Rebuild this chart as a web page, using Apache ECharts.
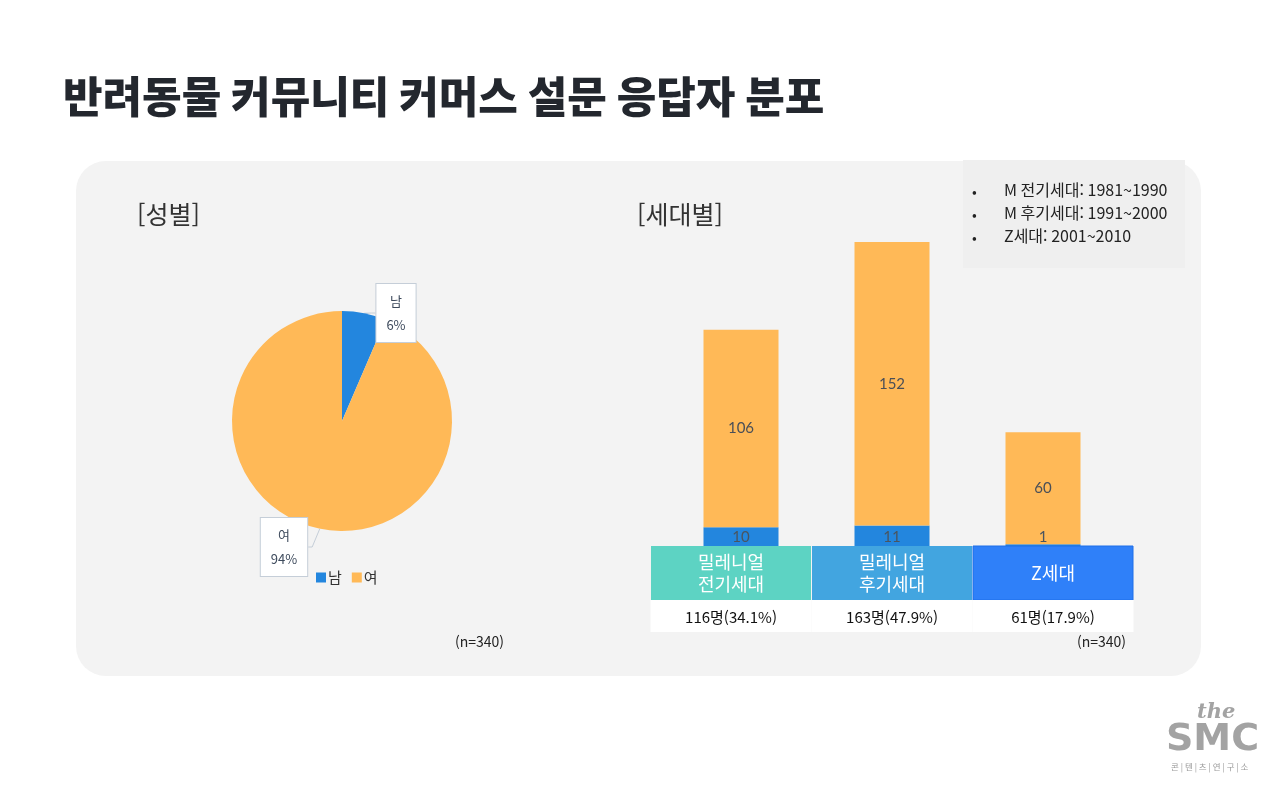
<!DOCTYPE html>
<html lang="ko">
<head>
<meta charset="UTF-8">
<title>반려동물 커뮤니티 커머스 설문 응답자 분포</title>
<script src="https://cdn.jsdelivr.net/npm/echarts@6/dist/echarts.min.js"></script>
<style>
  html, body { margin: 0; padding: 0; background: #fff; }
  #main { width: 1280px; height: 808px; }
</style>
</head>
<body>
<div id="main"></div>
<script>
// data
var genders = ['남', '여'];
var genderValues = [22, 318];
var generations = ['밀레니얼\n전기세대', '밀레니얼\n후기세대', 'Z세대'];
var maleByGen = [10, 11, 1];
var femaleByGen = [106, 152, 60];
var sampleSize = 340;
var headerColors = ['#5dd3c3', '#42a5e0', '#2f80f9'];
var notes = ['M 전기세대: 1981~1990', 'M 후기세대: 1991~2000', 'Z세대: 2001~2010'];

var FONT = '"Noto Sans CJK KR", "Noto Sans", sans-serif';
var BLUE = '#2386de', ORANGE = '#ffb957';

var chart = echarts.init(document.getElementById('main'));

var noteTexts = notes.map(function (t, i) {
  return [
    { type: 'text', left: 972, top: 185 + i * 23, z: 12,
      style: { text: '•', fontSize: 14, fill: '#222', fontFamily: FONT } },
    { type: 'text', left: 1004, top: 182 + i * 23, z: 12,
      style: { text: t, fontSize: 16, fill: '#222', fontFamily: FONT } }
  ];
}).reduce(function (a, b) { return a.concat(b); }, []);

var option = {
  backgroundColor: '#ffffff',
  animation: false,
  textStyle: { fontFamily: FONT },
  title: {
    text: '반려동물 커뮤니티 커머스 설문 응답자 분포',
    left: 58, top: 70,
    textStyle: { fontSize: 43, fontWeight: 900, color: '#23272e', fontFamily: FONT }
  },
  legend: {
    data: genders,
    left: 311, top: 565,
    itemWidth: 10, itemHeight: 10, itemGap: 10,
    icon: 'rect',
    textStyle: { fontSize: 15, color: '#333', padding: [0, 0, 0, -3] }
  },
  grid: { left: 665.5, right: 161.5, top: 229, bottom: 262 },
  xAxis: {
    type: 'category',
    data: generations,
    axisLine: { show: false },
    axisTick: { show: false },
    axisLabel: { show: false }
  },
  yAxis: {
    type: 'value', min: 0, max: 170,
    show: false, splitLine: { show: false }
  },
  series: [
    {
      type: 'pie',
      center: [342, 421],
      radius: 110,
      startAngle: 90,
      clockwise: true,
      percentPrecision: 0,
      data: genders.map(function (g, i) {
        return { name: g, value: genderValues[i], itemStyle: { color: [BLUE, ORANGE][i] } };
      }),
      label: {
        position: 'outside',
        formatter: '{b}\n{d}%',
        fontSize: 13,
        lineHeight: 24,
        color: '#3d4a5c',
        backgroundColor: '#ffffff',
        borderColor: '#c5ced8',
        borderWidth: 1,
        padding: [5, 10, 5, 10],
        align: 'center'
      },
      labelLine: { show: true, length: 6, length2: 4, lineStyle: { color: '#c5ced8' } },
      labelLayout: function (p) {
        if (p.dataIndex === 0) return { x: 396, y: 313, align: 'center' };
        return { x: 284, y: 547, align: 'center' };
      },
      emphasis: { disabled: true }
    },
    {
      name: '남', type: 'bar', stack: 'gen', barWidth: 75,
      data: maleByGen,
      itemStyle: { color: BLUE },
      label: { show: true, position: 'insideBottom', distance: 1, fontSize: 15,
               color: '#4a5560', fontFamily: 'Lato, sans-serif' },
      z: 3
    },
    {
      name: '여', type: 'bar', stack: 'gen', barWidth: 75,
      data: femaleByGen,
      itemStyle: { color: ORANGE },
      label: { show: true, position: 'inside', fontSize: 15,
               color: '#4a4f57', fontFamily: 'Lato, sans-serif' },
      z: 3
    }
  ],
  graphic: [
    { type: 'rect', shape: { x: 76, y: 161, width: 1125, height: 515, r: 30 },
      style: { fill: '#f3f3f3' }, z: -10, silent: true },
    { type: 'rect', shape: { x: 963, y: 160, width: 222, height: 108 },
      style: { fill: '#efefef' }, z: 11, silent: true },
    { type: 'text', left: 137, top: 202, style: { text: '[성별]', fontSize: 25, fill: '#333', fontFamily: FONT } },
    { type: 'text', left: 637, top: 202, style: { text: '[세대별]', fontSize: 25, fill: '#333', fontFamily: FONT } },
    { type: 'text', left: 455, top: 635, style: { text: '(n=' + sampleSize + ')', fontSize: 14, fill: '#222', fontFamily: FONT } },
    { type: 'text', left: 1077, top: 635, style: { text: '(n=' + sampleSize + ')', fontSize: 14, fill: '#222', fontFamily: FONT } },
    { type: 'text', left: 1197, top: 702, style: { text: 'the', fontSize: 21, fontStyle: 'italic', fontWeight: 'bold', fill: '#a3a3a3', fontFamily: '"DejaVu Serif", serif' } },
    { type: 'text', left: 1166, top: 721, style: { text: 'SMC', fontSize: 38, fontWeight: 'bold', fill: '#a3a3a3', fontFamily: '"DejaVu Sans", sans-serif' } },
    { type: 'text', left: 1171, top: 763, style: { text: '콘 | 텐 | 츠 | 연 | 구 | 소', fontSize: 8.5, fill: '#999', fontFamily: FONT } }
  ].concat(noteTexts)
};

chart.setOption(option);

// category header boxes under the bars, placed from the category axis
var gridBottomY = chart.convertToPixel({ yAxisIndex: 0 }, 0);
var headerWidth = 161;
var midX = chart.convertToPixel({ xAxisIndex: 0 }, 1);
var headers = [];
generations.forEach(function (g, i) {
  var total = maleByGen[i] + femaleByGen[i];
  var pct = (total / sampleSize * 100).toFixed(1);
  var x0 = midX - headerWidth * 1.5 + i * headerWidth;
  var cx = x0 + headerWidth / 2;
  headers.push({
    type: 'rect', z: 20,
    shape: { x: x0 + 0.5, y: gridBottomY, width: headerWidth - 1, height: 54 },
    style: { fill: headerColors[i], stroke: i === 2 ? '#1f6fe8' : null, lineWidth: 1 }
  });
  headers.push({
    type: 'text', z: 21, x: cx, y: gridBottomY + 27,
    style: { text: g, fontSize: 18, lineHeight: 22, fill: '#ffffff', align: 'center',
             verticalAlign: 'middle', fontFamily: FONT }
  });
  headers.push({
    type: 'rect', z: 20,
    shape: { x: x0, y: gridBottomY + 54, width: headerWidth, height: 32 },
    style: { fill: '#ffffff' }
  });
  headers.push({
    type: 'text', z: 21, x: cx, y: gridBottomY + 71,
    style: { text: total + '명(' + pct + '%)', fontSize: 15, fill: '#111', align: 'center',
             verticalAlign: 'middle', fontFamily: FONT }
  });
});
chart.setOption({ graphic: option.graphic.concat(headers) });
</script>
</body>
</html>
